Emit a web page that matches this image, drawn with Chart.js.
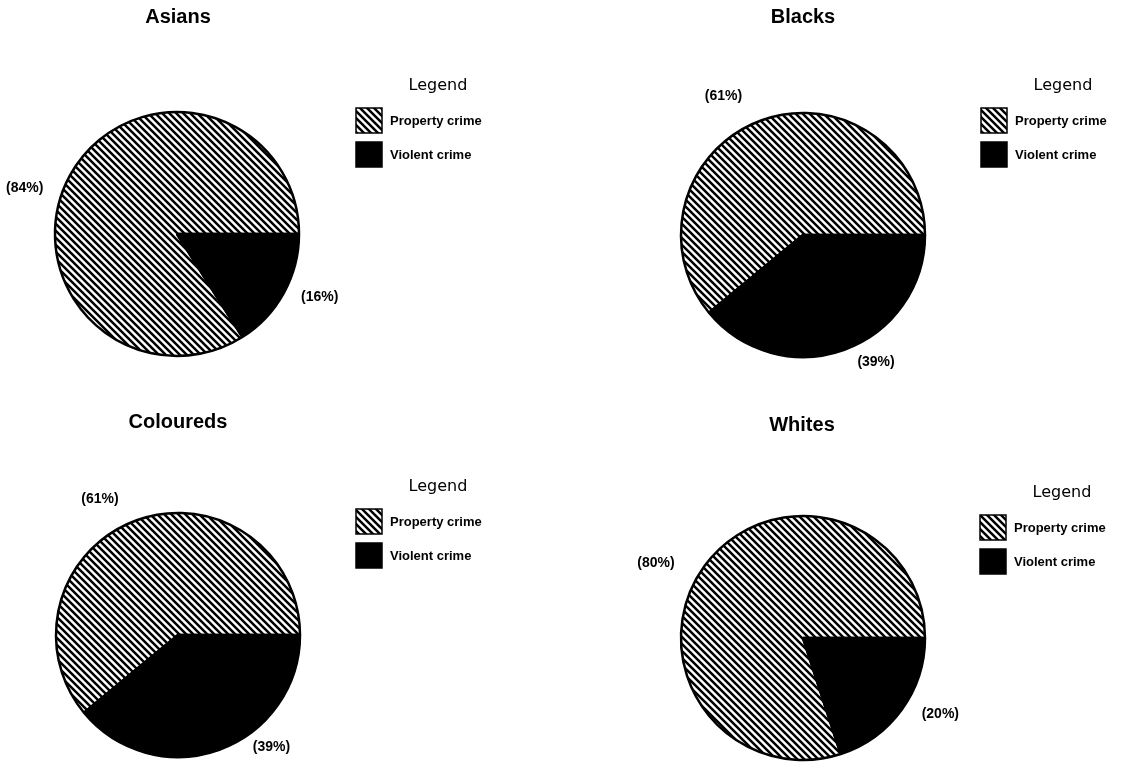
<!DOCTYPE html>
<html>
<head>
<meta charset="utf-8">
<script src="https://cdn.jsdelivr.net/npm/chart.js@4.4.1/dist/chart.umd.min.js"></script>
<style>
  html, body { margin: 0; padding: 0; background: #fff; }
  #wrap { position: relative; width: 1126px; height: 769px; overflow: hidden; background: #fff; }
  #wrap canvas { position: absolute; }
</style>
</head>
<body>
<div id="wrap"></div>
<script>
// Share of reported crime by type, per population group (percent)
const groups = ['Asians', 'Blacks', 'Coloureds', 'Whites'];
const crimeTypes = ['Property crime', 'Violent crime'];
const propertyShare = [84, 61, 61, 80];
const violentShare = [16, 39, 39, 20];
const legendTitle = 'Legend';

// Panel placement: canvas origin, pie centre (local), title / legend anchors (local),
// and per-slice label placement (angle nudge in degrees, distance from centre in px)
const panels = [
  { left: 0,   top: 0,   cx: 177, cy: 234, titleX: 178, titleY: 17, legX: 356, legY: 86,
    nudge: [-12, -5],  dist: [159, 156] },
  { left: 563, top: 0,   cx: 240, cy: 235, titleX: 240, titleY: 17, legX: 418, legY: 86,
    nudge: [-10, -10], dist: [160, 147] },
  { left: 0,   top: 385, cx: 178, cy: 250, titleX: 178, titleY: 37, legX: 356, legY: 102,
    nudge: [-10, -20], dist: [157, 146] },
  { left: 563, top: 385, cx: 240, cy: 253, titleX: 239, titleY: 40, legX: 417, legY: 108,
    nudge: [-9, -7],   dist: [165, 157] }
];
const W = 563, H = 385, R = 122;

// Diagonal hatch used for property crime
function makeHatch() {
  const s = 7;
  const c = document.createElement('canvas');
  c.width = s; c.height = s;
  const g = c.getContext('2d');
  g.fillStyle = '#fff';
  g.fillRect(0, 0, s, s);
  g.strokeStyle = '#000';
  g.lineWidth = 2.5;
  g.beginPath();
  for (const k of [-1, 0, 1]) {
    g.moveTo(k * s - 1, -1);
    g.lineTo(k * s + s + 1, s + 1);
  }
  g.stroke();
  return g.createPattern(c, 'repeat');
}
const hatch = makeHatch();
const fills = [hatch, '#000'];

// Title, legend and percentage labels
const decorations = {
  id: 'decorations',
  afterDraw(chart, args, opts) {
    const p = opts.panel;
    const ctx = chart.ctx;
    ctx.save();
    ctx.fillStyle = '#000';
    ctx.textBaseline = 'middle';

    // title
    ctx.textAlign = 'center';
    ctx.font = 'bold 20px "Liberation Sans", Arial, sans-serif';
    ctx.fillText(opts.title, p.titleX, p.titleY);

    // legend
    ctx.font = '16px "DejaVu Sans", sans-serif';
    ctx.fillText(legendTitle, p.legX + 82, p.legY);
    ctx.textAlign = 'left';
    ctx.font = 'bold 13px "Liberation Sans", Arial, sans-serif';
    chart.data.labels.forEach((lab, i) => {
      const by = p.legY + 22 + i * 34;
      ctx.fillStyle = chart.data.datasets[0].backgroundColor[i];
      ctx.fillRect(p.legX, by, 26, 25);
      ctx.strokeStyle = '#000';
      ctx.lineWidth = 1.5;
      ctx.strokeRect(p.legX, by, 26, 25);
      ctx.fillStyle = '#000';
      ctx.fillText(lab, p.legX + 34, by + 13);
    });

    // percentage labels outside each slice
    ctx.textAlign = 'center';
    ctx.font = 'bold 14px "Liberation Sans", Arial, sans-serif';
    const meta = chart.getDatasetMeta(0);
    const vals = chart.data.datasets[0].data;
    meta.data.forEach((arc, i) => {
      const mid = (arc.startAngle + arc.endAngle) / 2 + p.nudge[i] * Math.PI / 180;
      const d = p.dist[i];
      const x = arc.x + Math.cos(mid) * d;
      const y = arc.y + Math.sin(mid) * d;
      ctx.fillText('(' + vals[i] + '%)', x, y);
    });
    ctx.restore();
  }
};

const wrap = document.getElementById('wrap');
groups.forEach((name, gi) => {
  const p = panels[gi];
  const cv = document.createElement('canvas');
  cv.width = W; cv.height = H;
  cv.style.left = p.left + 'px';
  cv.style.top = p.top + 'px';
  cv.style.width = W + 'px';
  cv.style.height = H + 'px';
  wrap.appendChild(cv);

  const values = [propertyShare[gi], violentShare[gi]];
  const total = values[0] + values[1];
  // property slice ends at 3 o'clock, violent slice follows clockwise
  const rotation = 90 - 360 * values[0] / total;

  new Chart(cv, {
    type: 'pie',
    data: {
      labels: crimeTypes,
      datasets: [{
        data: values,
        backgroundColor: fills,
        borderColor: '#000',
        borderWidth: 2.5,
        radius: R
      }]
    },
    options: {
      responsive: false,
      animation: false,
      rotation: rotation,
      layout: {
        padding: {
          left: p.cx - 125,
          right: W - p.cx - 125,
          top: p.cy - 125,
          bottom: H - p.cy - 125
        }
      },
      plugins: {
        legend: { display: false },
        tooltip: { enabled: false },
        title: { display: false },
        decorations: { panel: p, title: name }
      }
    },
    plugins: [decorations]
  });
});
</script>
</body>
</html>
